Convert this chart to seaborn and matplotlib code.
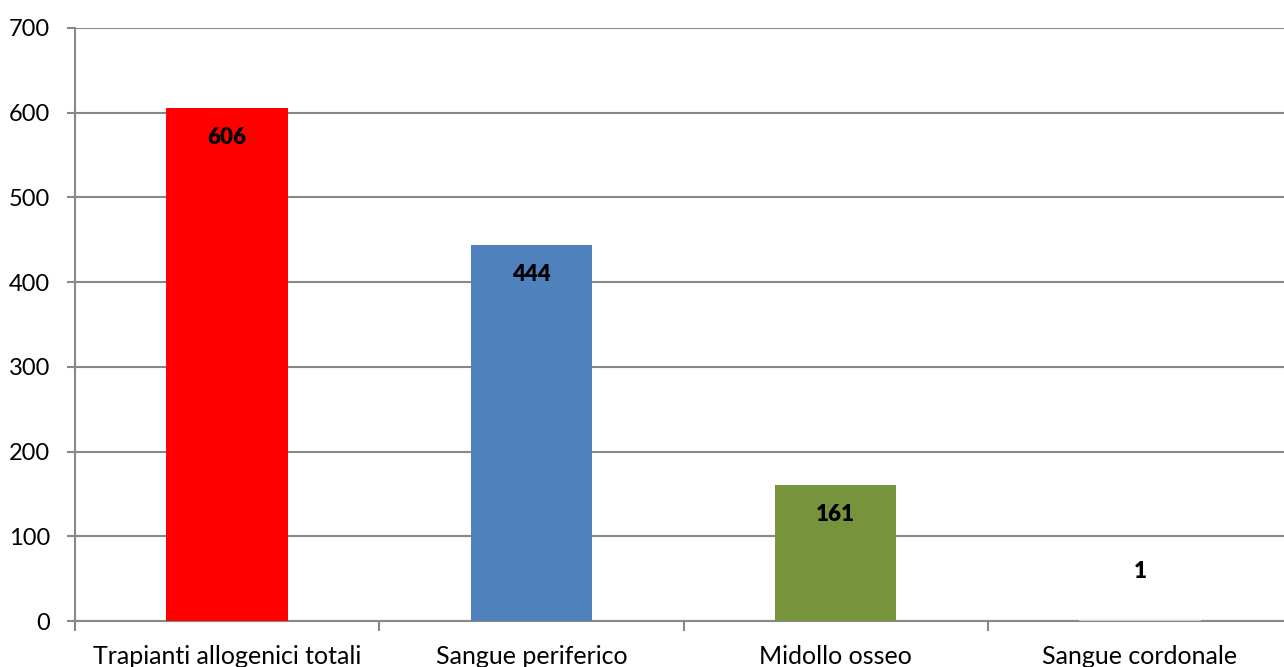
import matplotlib
matplotlib.use("Agg")
import matplotlib.pyplot as plt
import seaborn as sns
import pandas as pd

categories = ["Trapianti allogenici totali", "Sangue periferico", "Midollo osseo", "Sangue cordonale"]
values = [606, 444, 161, 1]
colors = ["#FF0000", "#4F81BD", "#77933C", "#C9C9D6"]

sns.set_theme(style="white")
plt.rcParams["font.family"] = ["Lato", "DejaVu Sans"]

df = pd.DataFrame({"categoria": categories, "valore": values})

fig = plt.figure(figsize=(12.84, 6.67), dpi=100)
ax = fig.add_axes([75 / 1284, 1 - 621 / 667, 1217 / 1284, (621 - 28) / 667])

sns.barplot(data=df, x="categoria", y="valore", hue="categoria", palette=colors,
            width=0.4, legend=False, ax=ax, saturation=1, zorder=3, linewidth=0)

grid_col = "#888888"
ax.set_ylim(0, 700)
ax.set_xlim(-0.5, 3.5)
ax.set_yticks(range(0, 701, 100))
ax.yaxis.grid(True, color=grid_col, linewidth=1.5, zorder=0)
ax.set_axisbelow(True)

for side in ["top", "right"]:
    ax.spines[side].set_visible(False)
for side in ["left", "bottom"]:
    ax.spines[side].set_color(grid_col)
    ax.spines[side].set_linewidth(1.5)

ax.tick_params(axis="y", which="major", length=6, width=1.5, color=grid_col,
               left=True, labelsize=17, pad=12, labelcolor="black")
ax.tick_params(axis="x", which="major", length=0, labelsize=18, pad=17, labelcolor="black")
ax.set_xticks([-0.5, 0.5, 1.5, 2.5, 3.5], minor=True)
ax.tick_params(axis="x", which="minor", length=7, width=1.5, color=grid_col, bottom=True)

ax.set_xlabel("")
ax.set_ylabel("")

for i, v in enumerate(values):
    if v >= 50:
        ax.annotate(str(v), (i, v), xytext=(0, -21.5), textcoords="offset points",
                    ha="center", va="center", fontsize=16, fontweight="heavy", color="black")
    else:
        ax.annotate(str(v), (i, v), xytext=(0, 35), textcoords="offset points",
                    ha="center", va="center", fontsize=16, fontweight="heavy", color="black")

fig.savefig("out.png", dpi=100)
